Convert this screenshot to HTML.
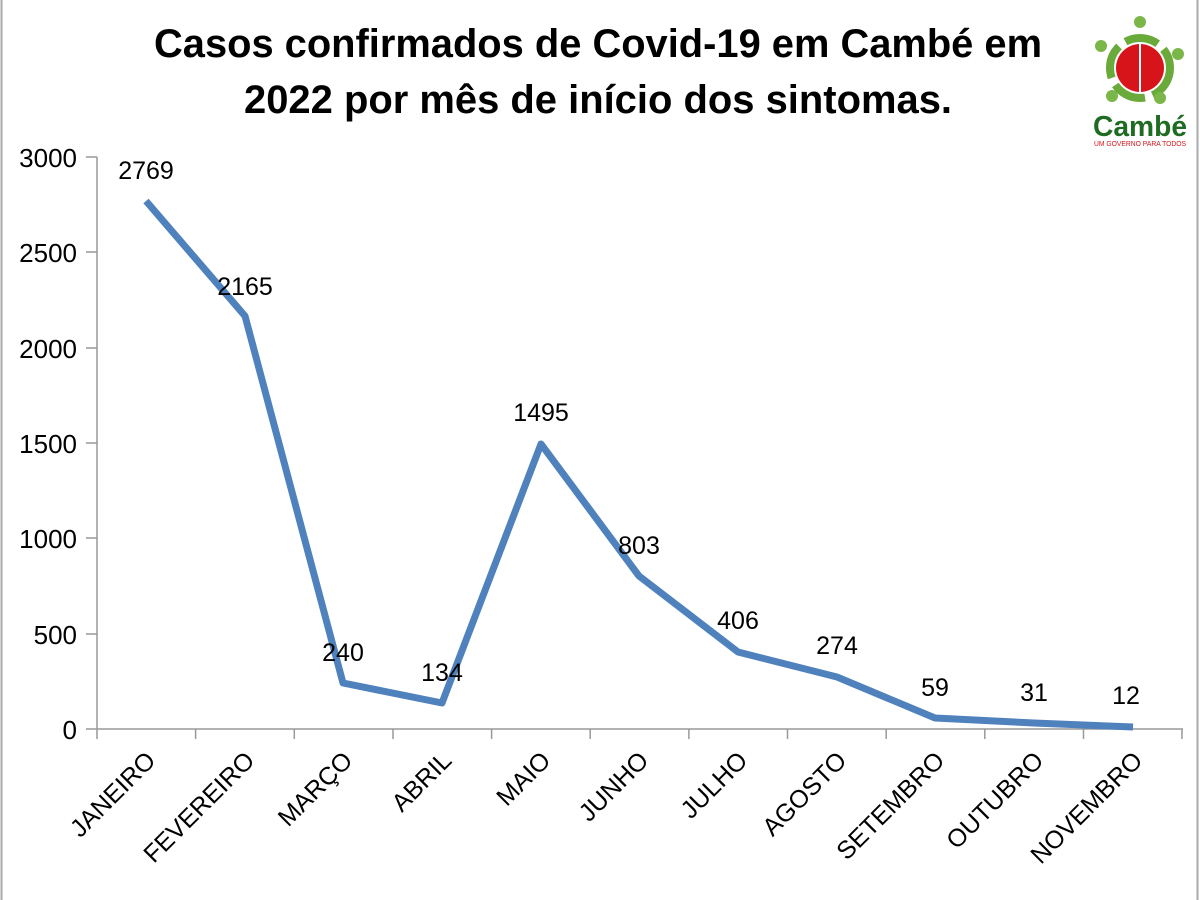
<!DOCTYPE html><html><head><style>body{margin:0;background:#fff}svg{display:block}</style></head><body>
<svg width="1200" height="900" xmlns="http://www.w3.org/2000/svg" font-family="Liberation Sans, DejaVu Sans, sans-serif">
<rect x="0" y="0" width="1200" height="900" fill="#fff"/>
<line x1="1.5" y1="0" x2="1.5" y2="900" stroke="#aaa" stroke-width="2"/>
<line x1="1197.5" y1="0" x2="1197.5" y2="900" stroke="#aaa" stroke-width="2"/>
<text x="598" y="57" font-size="40" font-weight="bold" text-anchor="middle" textLength="888" lengthAdjust="spacingAndGlyphs">Casos confirmados de Covid-19 em Cambé em</text>
<text x="598" y="113" font-size="40" font-weight="bold" text-anchor="middle" textLength="708" lengthAdjust="spacingAndGlyphs">2022 por mês de início dos sintomas.</text>
<!-- logo -->
<g>
<circle cx="1140" cy="68" r="30" fill="none" stroke="#6aaa3a" stroke-width="8" stroke-dasharray="34 8"/>
<circle cx="1140" cy="68" r="24" fill="#d7141a"/>
<line x1="1140" y1="44" x2="1140" y2="92" stroke="#fff" stroke-width="2"/>
<circle cx="1140" cy="22" r="6" fill="#7ab648"/><circle cx="1101" cy="46" r="6" fill="#7ab648"/><circle cx="1178" cy="54" r="6" fill="#7ab648"/><circle cx="1112" cy="96" r="6" fill="#7ab648"/><circle cx="1160" cy="98" r="6" fill="#7ab648"/>
<text x="1140" y="136" font-size="29" font-weight="bold" fill="#1f6b22" text-anchor="middle" textLength="94" lengthAdjust="spacingAndGlyphs">Cambé</text>
<text x="1140" y="146" font-size="7" fill="#d7141a" text-anchor="middle" textLength="92" lengthAdjust="spacingAndGlyphs">UM GOVERNO PARA TODOS</text>
</g>
<!-- axes -->
<g stroke="#999" stroke-width="1.5">
<line x1="97" y1="157" x2="97" y2="729"/>
<line x1="86" y1="729" x2="1183" y2="729"/>
<line x1="86" y1="157" x2="97" y2="157"/><line x1="86" y1="252" x2="97" y2="252"/><line x1="86" y1="348" x2="97" y2="348"/><line x1="86" y1="443" x2="97" y2="443"/><line x1="86" y1="538" x2="97" y2="538"/><line x1="86" y1="634" x2="97" y2="634"/>
<line x1="97" y1="729" x2="97" y2="739"/><line x1="195.6" y1="729" x2="195.6" y2="739"/><line x1="294.3" y1="729" x2="294.3" y2="739"/><line x1="393" y1="729" x2="393" y2="739"/><line x1="491.6" y1="729" x2="491.6" y2="739"/><line x1="590.2" y1="729" x2="590.2" y2="739"/><line x1="688.9" y1="729" x2="688.9" y2="739"/><line x1="787.5" y1="729" x2="787.5" y2="739"/><line x1="886.2" y1="729" x2="886.2" y2="739"/><line x1="984.8" y1="729" x2="984.8" y2="739"/><line x1="1083.5" y1="729" x2="1083.5" y2="739"/><line x1="1182" y1="729" x2="1182" y2="739"/>
</g>
<g font-size="26" text-anchor="end">
<text x="77" y="167">3000</text><text x="77" y="262">2500</text><text x="77" y="358">2000</text><text x="77" y="453">1500</text><text x="77" y="548">1000</text><text x="77" y="644">500</text><text x="77" y="739">0</text>
</g>
<polyline fill="none" stroke="#4f81bd" stroke-width="7" stroke-linejoin="round" points="146,201 245,316 343,683 442,703 541,444 639,576 738,652 837,677 935,718 1034,723 1133,727"/>
<g font-size="25" text-anchor="middle">
<text x="146" y="179">2769</text><text x="245" y="295">2165</text><text x="343" y="661">240</text><text x="442" y="681">134</text><text x="541" y="421">1495</text><text x="639" y="554">803</text><text x="738" y="629">406</text><text x="837" y="654">274</text><text x="935" y="696">59</text><text x="1034" y="701">31</text><text x="1126" y="704">12</text>
</g>
<g font-size="25" text-anchor="end">
<text transform="translate(157,762) rotate(-45)">JANEIRO</text>
<text transform="translate(256,762) rotate(-45)">FEVEREIRO</text>
<text transform="translate(354,762) rotate(-45)">MARÇO</text>
<text transform="translate(453,762) rotate(-45)">ABRIL</text>
<text transform="translate(552,762) rotate(-45)">MAIO</text>
<text transform="translate(650,762) rotate(-45)">JUNHO</text>
<text transform="translate(749,762) rotate(-45)">JULHO</text>
<text transform="translate(848,762) rotate(-45)">AGOSTO</text>
<text transform="translate(946,762) rotate(-45)">SETEMBRO</text>
<text transform="translate(1045,762) rotate(-45)">OUTUBRO</text>
<text transform="translate(1144,762) rotate(-45)">NOVEMBRO</text>
</g>
</svg>
</body></html>
